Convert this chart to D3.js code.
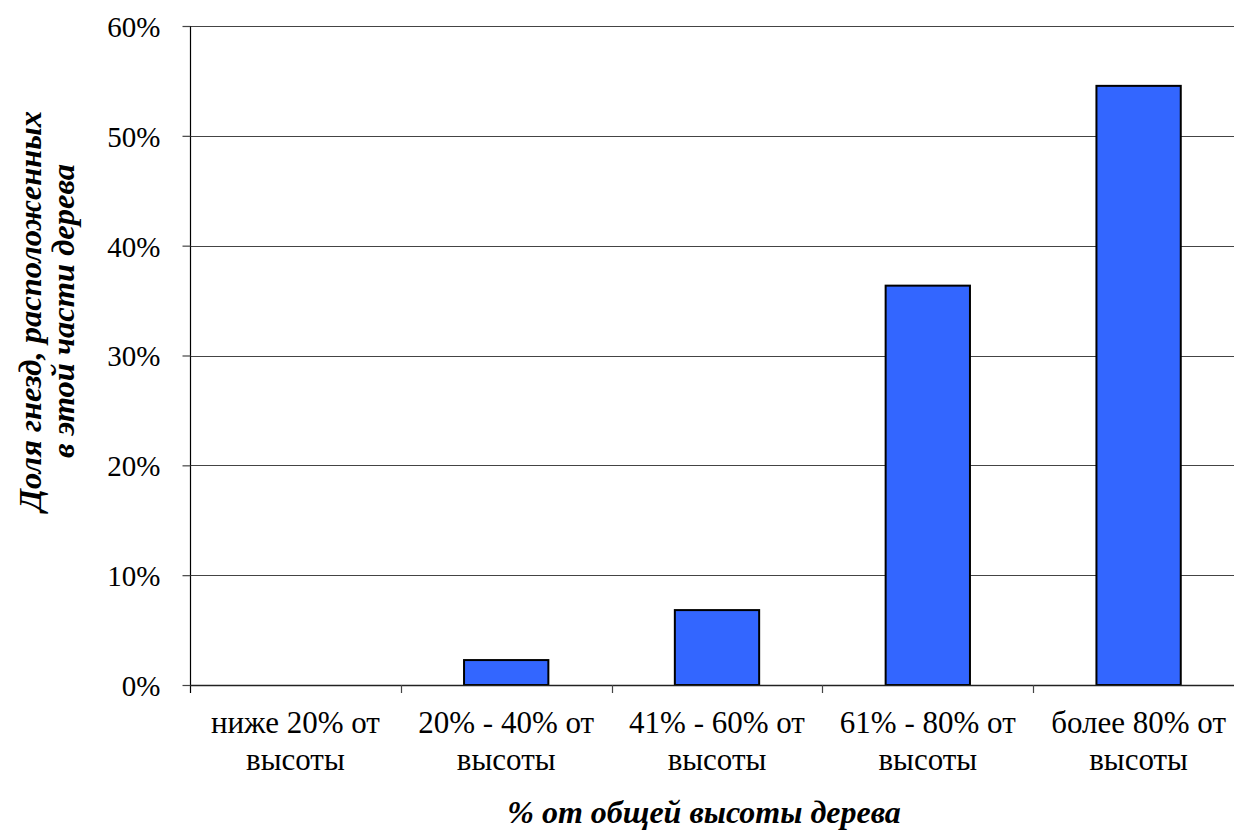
<!DOCTYPE html>
<html>
<head>
<meta charset="utf-8">
<script src="https://cdn.jsdelivr.net/npm/d3@7"></script>
<style>
  html, body { margin: 0; padding: 0; background: #fff; }
  svg { display: block; }
  svg text { font-family: "Liberation Serif", "DejaVu Serif", serif; }
</style>
</head>
<body>
<svg id="chart" width="1234" height="836"></svg>
<script>
// Nest height categories (two-line labels) and share of nests in each
const categories = [
  ["ниже 20% от", "высоты"],
  ["20% - 40% от", "высоты"],
  ["41% - 60% от", "высоты"],
  ["61% - 80% от", "высоты"],
  ["более 80% от", "высоты"]
];
const shares = [0, 0.0227, 0.0682, 0.3636, 0.5455];
const yTicks = [0, 0.1, 0.2, 0.3, 0.4, 0.5, 0.6];
const yTitle = ["Доля гнезд, расположенных", "в этой части дерева"];
const xTitle = "% от общей высоты дерева";

const svg = d3.select("#chart");
const plot = { left: 190, right: 1244, top: 26, bottom: 685 };
const serif = "Liberation Serif, DejaVu Serif, serif";

const x = d3.scaleBand()
  .domain(d3.range(categories.length))
  .range([plot.left, plot.right])
  .paddingInner(0.6)
  .paddingOuter(0.3);

const xBand = d3.scaleBand()
  .domain(d3.range(categories.length))
  .range([plot.left, plot.right]);

const y = d3.scaleLinear().domain([0, 0.6]).range([plot.bottom, plot.top]);

// Gridlines
svg.append("g")
  .selectAll("line")
  .data(yTicks.filter(d => d > 0))
  .join("line")
  .attr("x1", plot.left)
  .attr("x2", plot.right)
  .attr("y1", d => Math.round(y(d)) + 0.5)
  .attr("y2", d => Math.round(y(d)) + 0.5)
  .attr("stroke", "#444")
  .attr("stroke-width", 1.2);

// Y axis
const yAxis = svg.append("g")
  .attr("transform", `translate(${plot.left + 0.5},0)`)
  .call(d3.axisLeft(y).tickValues(yTicks).tickFormat(d3.format(".0%")).tickSize(8).tickPadding(22));
yAxis.attr("font-family", null).attr("font-size", null);
yAxis.select(".domain").attr("stroke", "#000").attr("stroke-width", 1.2).attr("d", `M0,${plot.top}V${plot.bottom + 8}`);
yAxis.selectAll(".tick line").attr("stroke", "#444").attr("stroke-width", 1.2);
yAxis.selectAll(".tick text")
  .style("font-family", serif)
  .style("font-size", "29px")
  .attr("dy", "0.36em")
  .attr("fill", "#000");

// Bars
svg.append("g")
  .selectAll("rect")
  .data(shares)
  .join("rect")
  .attr("x", (d, i) => x(i))
  .attr("width", x.bandwidth())
  .attr("y", d => y(d))
  .attr("height", d => y(0) - y(d))
  .attr("fill", "#3366FF")
  .attr("stroke", d => d > 0 ? "#000" : "none")
  .attr("stroke-width", 2);

// X axis baseline and category boundary ticks
const xAxis = svg.append("g");
xAxis.append("line")
  .attr("x1", plot.left).attr("x2", plot.right)
  .attr("y1", plot.bottom + 0.5).attr("y2", plot.bottom + 0.5)
  .attr("stroke", "#222").attr("stroke-width", 1.4);
xAxis.selectAll("line.tick")
  .data(d3.range(1, categories.length + 1))
  .join("line")
  .attr("class", "tick")
  .attr("x1", i => Math.round(plot.left + i * xBand.bandwidth()) + 0.5)
  .attr("x2", i => Math.round(plot.left + i * xBand.bandwidth()) + 0.5)
  .attr("y1", plot.bottom)
  .attr("y2", plot.bottom + 8)
  .attr("stroke", "#444").attr("stroke-width", 1.2);

// Category labels
const labels = svg.append("g")
  .selectAll("text")
  .data(categories)
  .join("text")
  .attr("x", (d, i) => xBand(i) + xBand.bandwidth() / 2)
  .attr("y", 733)
  .attr("text-anchor", "middle")
  .style("font-family", serif)
  .style("font-size", "31px")
  .attr("fill", "#000");
labels.selectAll("tspan")
  .data(d => d)
  .join("tspan")
  .attr("x", function () { return d3.select(this.parentNode).attr("x"); })
  .attr("dy", (d, i) => i === 0 ? 0 : 37)
  .text(d => d);

// Axis titles
svg.append("text")
  .attr("x", 704)
  .attr("y", 823)
  .attr("text-anchor", "middle")
  .style("font-family", serif)
  .style("font-size", "32px")
  .style("font-weight", "bold")
  .style("font-style", "italic")
  .text(xTitle);

svg.append("text")
  .attr("transform", "translate(0,311) rotate(-90)")
  .attr("text-anchor", "middle")
  .style("font-family", serif)
  .style("font-size", "32.5px")
  .style("font-weight", "bold")
  .style("font-style", "italic")
  .selectAll("tspan")
  .data(yTitle)
  .join("tspan")
  .attr("x", 0)
  .attr("y", (d, i) => 41 + i * 33)
  .text(d => d);
</script>
</body>
</html>
